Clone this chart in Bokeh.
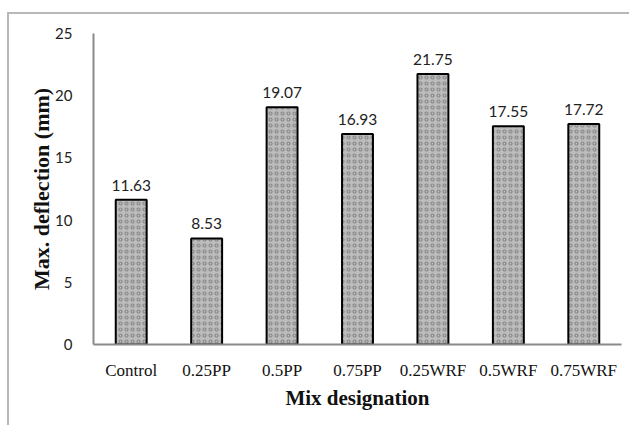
from bokeh.plotting import figure
from bokeh.layouts import column
from bokeh.models import ColumnDataSource, Range1d, FixedTicker
from bokeh.core.properties import value
from bokeh.embed import file_html
from bokeh.resources import INLINE

mixes = ["Control", "0.25PP", "0.5PP", "0.75PP", "0.25WRF", "0.5WRF", "0.75WRF"]
deflection = [11.63, 8.53, 19.07, 16.93, 21.75, 17.55, 17.72]
y_ticks = [0, 5, 10, 15, 20, 25]

src = ColumnDataSource(dict(
    x=mixes, top=deflection, label=["%.2f" % v for v in deflection]))

p = figure(x_range=mixes, y_range=Range1d(0, 25), width=620, height=411,
           output_backend="svg", toolbar_location=None,
           min_border_left=84, min_border_right=8, min_border_top=19,
           min_border_bottom=81)

p.vbar(x="x", top="top", width=0.41, source=src,
       fill_color="#bcbcbc", line_color="black", line_width=2,
       hatch_pattern="ring", hatch_color="#5e5e5e", hatch_scale=6,
       hatch_weight=1.2, hatch_alpha=0.55)

p.text(x="x", y="top", text="label", source=src, text_align="center",
       text_baseline="bottom", y_offset=-9, text_font=value("Lato"),
       text_font_size="15.5px", text_color="#222222")

p.outline_line_color = None
p.xgrid.grid_line_color = None
p.ygrid.grid_line_color = None

p.yaxis.ticker = FixedTicker(ticks=y_ticks)
p.yaxis.axis_line_color = "#8a8a8a"
p.yaxis.axis_line_width = 2
p.yaxis.major_tick_line_color = None
p.yaxis.minor_tick_line_color = None
p.yaxis.major_label_text_font = "Lato"
p.yaxis.major_label_text_font_size = "15px"
p.yaxis.major_label_text_color = "#222222"
p.yaxis.major_label_standoff = 15
p.yaxis.axis_label = "Max. deflection (mm)"
p.yaxis.axis_label_text_font = "Liberation Serif"
p.yaxis.axis_label_text_font_style = "bold"
p.yaxis.axis_label_text_font_size = "22px"
p.yaxis.axis_label_text_color = "#111111"
p.yaxis.axis_label_standoff = -2

p.xaxis.axis_line_color = "#8a8a8a"
p.xaxis.axis_line_width = 2
p.xaxis.major_tick_line_color = None
p.xaxis.minor_tick_line_color = None
p.xaxis.major_label_text_font = "Liberation Serif"
p.xaxis.major_label_text_font_size = "17px"
p.xaxis.major_label_text_color = "#111111"
p.xaxis.major_label_standoff = 10
p.xaxis.axis_label = "Mix designation"
p.xaxis.axis_label_text_font = "Liberation Serif"
p.xaxis.axis_label_text_font_style = "bold"
p.xaxis.axis_label_text_font_size = "21px"
p.xaxis.axis_label_text_color = "#111111"
p.xaxis.axis_label_standoff = 3

layout = column(p, styles={"margin-left": "7px", "margin-top": "12px",
                           "border-top": "2px solid #b8b8b8",
                           "border-left": "2px solid #b8b8b8"})

open("out.html", "w").write(file_html(layout, INLINE))
